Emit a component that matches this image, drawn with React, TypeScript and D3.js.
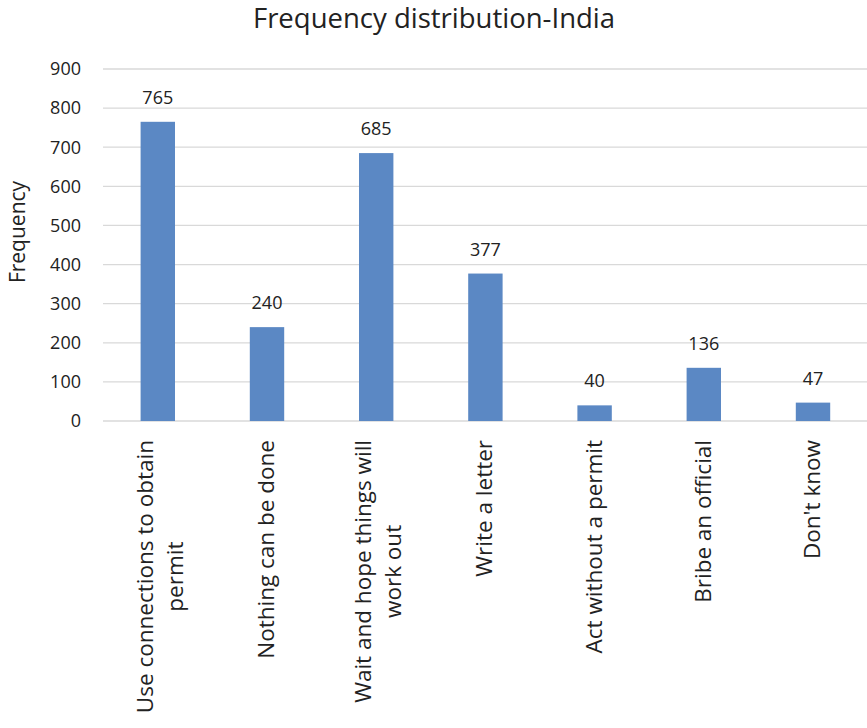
import React from "react";
import * as d3 from "d3";

const categories = [
  "Use connections to obtain permit",
  "Nothing can be done",
  "Wait and hope things will work out",
  "Write a letter",
  "Act without a permit",
  "Bribe an official",
  "Don't know",
];
const frequencies = [765, 240, 685, 377, 40, 136, 47];
const yTicks = [0, 100, 200, 300, 400, 500, 600, 700, 800, 900];
const chartTitle = "Frequency distribution-India";
const yAxisTitle = "Frequency";

const W = 867;
const H = 728;
const FONT = "'Open Sans', 'Noto Sans', sans-serif";
const BAR_COLOR = "#5b88c4";
const GRID_COLOR = "#d9d9d9";
const TEXT_COLOR = "#222";

const tickSize = 18;
const catSize = 22.5;
const catLineHeight = 30;

let ctx: CanvasRenderingContext2D | null = null;
function measure(text: string, size: number): number {
  if (!ctx) ctx = document.createElement("canvas").getContext("2d");
  if (!ctx) return text.length * size * 0.55;
  ctx.font = `${size}px 'Open Sans'`;
  return ctx.measureText(text).width;
}

// Greedy word wrap against a maximum line width
function wrap(text: string, maxWidth: number, size: number): string[] {
  const words = text.split(" ");
  const lines: string[] = [];
  let cur = "";
  for (const w of words) {
    const next = cur ? cur + " " + w : w;
    if (cur && measure(next, size) > maxWidth) {
      lines.push(cur);
      cur = w;
    } else cur = next;
  }
  if (cur) lines.push(cur);
  return lines;
}

export default function App() {
  const x = d3
    .scaleBand<string>()
    .domain(categories)
    .range([103.2, 867.6])
    .paddingInner(0.685)
    .paddingOuter(0.3425);
  const y = d3.scaleLinear().domain([0, 900]).range([421, 69]);
  const labelTop = 440;

  return (
    <svg
      width={W}
      height={H}
      style={{ position: "absolute", left: 0, top: 0, background: "#fff" }}
      fontFamily={FONT}
    >
      <text x={434} y={28} textAnchor="middle" fontSize={27.5} fill={TEXT_COLOR}>
        {chartTitle}
      </text>

      {yTicks.map((t) => (
        <g key={t}>
          <line x1={103} x2={867} y1={y(t)} y2={y(t)} stroke={GRID_COLOR} strokeWidth={1.3} />
          <text x={81} y={y(t)} dy="0.35em" textAnchor="end" fontSize={tickSize} fill={TEXT_COLOR}>
            {t}
          </text>
        </g>
      ))}

      <text
        transform={`translate(25,232) rotate(-90)`}
        textAnchor="middle"
        fontSize={21}
        fill={TEXT_COLOR}
      >
        {yAxisTitle}
      </text>

      {categories.map((c, i) => {
        const x0 = x(c) as number;
        const bw = x.bandwidth();
        const v = frequencies[i];
        const cx = x0 + bw / 2;
        const lines = wrap(c, 300, catSize);
        const maxW = Math.max(...lines.map((l) => measure(l, catSize)));
        const n = lines.length;
        return (
          <g key={c}>
            <rect x={x0} y={y(v)} width={bw} height={y(0) - y(v)} fill={BAR_COLOR} />
            <text x={cx} y={y(v) - 18} textAnchor="middle" fontSize={tickSize} fill={TEXT_COLOR}>
              {v}
            </text>
            <g transform={`translate(${cx},${labelTop + maxW / 2}) rotate(-90)`}>
              {lines.map((l, j) => (
                <text
                  key={j}
                  x={0}
                  y={(j - (n - 1) / 2) * catLineHeight + (n > 1 ? 10 : 7)}
                  textAnchor="middle"
                  fontSize={catSize}
                  fill={TEXT_COLOR}
                >
                  {l}
                </text>
              ))}
            </g>
          </g>
        );
      })}
    </svg>
  );
}
